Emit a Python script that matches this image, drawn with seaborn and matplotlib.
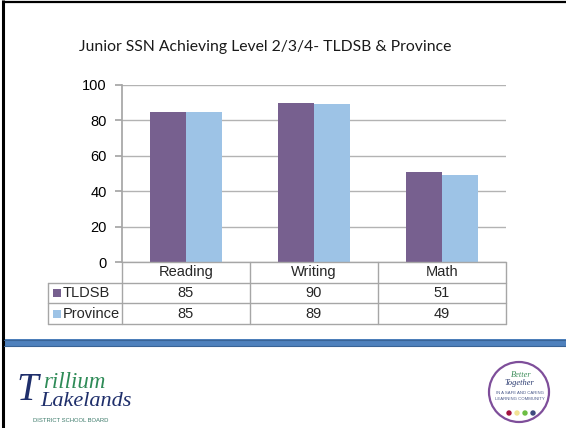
import matplotlib
matplotlib.use("Agg")
import matplotlib.pyplot as plt
import seaborn as sns
import pandas as pd
from matplotlib.patches import Rectangle, Circle

# chart data
title = "Junior SSN Achieving Level 2/3/4- TLDSB & Province"
subjects = ["Reading", "Writing", "Math"]
series = ["TLDSB", "Province"]
tldsb = [85, 90, 51]
province = [85, 89, 49]
yticks = [0, 20, 40, 60, 80, 100]
colors = ["#77608F", "#9DC3E6"]

df = pd.DataFrame({
    "subject": subjects * 2,
    "series": [series[0]] * 3 + [series[1]] * 3,
    "value": tldsb + province,
})

sns.set_theme(style="white")
plt.rcParams["font.family"] = ["Liberation Sans", "DejaVu Sans"]

W, H = 566, 428
fs = 10.5
fig = plt.figure(figsize=(W / 100, H / 100), dpi=100)


def fx(px):
    return px / W


def fy(py):
    return 1 - py / H


# overlay in pixel coords for slide decorations
ov = fig.add_axes([0, 0, 1, 1])
ov.set_xlim(0, W)
ov.set_ylim(H, 0)
ov.axis("off")

ov.plot([3, 3], [0, H], color="black", lw=2.2, solid_capstyle="butt")
ov.plot([2, W], [2, 2], color="black", lw=1.6, solid_capstyle="butt")
ov.text(265, 47, title, fontsize=11.3, family="Lato", ha="center", va="center", color="#1a1a1a")

# blue rule
ov.add_patch(Rectangle((4, 339), W - 4, 7, facecolor="#4F81BD", edgecolor="none"))
ov.plot([4, W], [339.5, 339.5], color="#3A6496", lw=0.8)
ov.plot([4, W], [345.5, 345.5], color="#3A6496", lw=0.8)

# Trillium Lakelands logo (text)
ov.text(16, 390, "T", fontsize=28, family="Liberation Serif", style="italic", color="#1F2F6B", ha="left", va="center")
ov.text(43, 382, "rillium", fontsize=16.5, family="Liberation Serif", style="italic", color="#2E8B57", ha="left", va="center")
ov.text(40, 401, "Lakelands", fontsize=16, family="Liberation Serif", style="italic", color="#1F2F6B", ha="left", va="center")
ov.text(33, 420, "DISTRICT SCHOOL BOARD", fontsize=4.2, color="#3C7A6A", ha="left", va="center")

# Better Together logo
ov.add_patch(Circle((519, 392), 30, facecolor="white", edgecolor="#7E4E9A", lw=1.6))
ov.text(521, 375, "Better", fontsize=6, family="Liberation Serif", style="italic", color="#3E8E5A", ha="center", va="center")
ov.text(519, 383, "Together", fontsize=6, family="Liberation Serif", style="italic", color="#2A3A70", ha="center", va="center")
ov.text(520, 393, "IN A SAFE AND CARING", fontsize=3.1, color="#4A5A8A", ha="center", va="center")
ov.text(520, 399, "LEARNING COMMUNITY", fontsize=3.1, color="#4A5A8A", ha="center", va="center")
for cx, c in zip([509, 517, 525, 533], ["#A3123E", "#F2E394", "#6DBE45", "#3E4A7E"]):
    ov.add_patch(Circle((cx, 413), 2.7, facecolor=c, edgecolor="none"))

# bar chart
ax = fig.add_axes([fx(122), fy(262), fx(506) - fx(122), fy(85) - fy(262)])
sns.barplot(data=df, x="subject", y="value", hue="series", order=subjects, hue_order=series,
            palette=colors, width=0.57, saturation=1, linewidth=0, ax=ax, legend=False)
ax.set_ylim(0, 100)
ax.set_xlim(-0.5, 2.5)
ax.set_yticks(yticks)
ax.yaxis.grid(True, color="#B3B3B3", lw=1)
ax.set_axisbelow(True)
ax.set_xticks([])
ax.set_xlabel("")
ax.set_ylabel("")
for s in ["top", "right", "bottom"]:
    ax.spines[s].set_visible(False)
ax.spines["left"].set_color("#A6A6A6")
ax.tick_params(axis="y", left=True, length=5, color="#A6A6A6", labelsize=fs, pad=6, labelcolor="black")
ax.set_facecolor("none")

# data table below the chart
cat_w = (506 - 122) / 3
xl = -0.5 - (122 - 48) / cat_w
row_h = (324 - 262) / 3
tx = fig.add_axes([fx(48), fy(324), fx(506) - fx(48), fy(262) - fy(324)])
tx.set_xlim(xl, 2.5)
tx.set_ylim(3, 0)
tx.axis("off")
lc = "#A6A6A6"
tx.plot([-0.5, 2.5], [0, 0], color=lc, lw=1, clip_on=False)
for r in [1, 2, 3]:
    tx.plot([xl, 2.5], [r, r], color=lc, lw=1, clip_on=False)
for c in [-0.5, 0.5, 1.5, 2.5]:
    tx.plot([c, c], [0, 3], color=lc, lw=1, clip_on=False)
tx.plot([xl, xl], [1, 3], color=lc, lw=1, clip_on=False)

for i, s in enumerate(subjects):
    tx.text(i, 0.5, s, fontsize=fs, ha="center", va="center")
for r, (name, vals, col) in enumerate(zip(series, [tldsb, province], colors)):
    y = r + 1.5
    tx.add_patch(Rectangle((xl + 5 / cat_w, y - 4 / row_h), 8 / cat_w, 8 / row_h,
                           facecolor=col, edgecolor="none", clip_on=False))
    tx.text(xl + 15 / cat_w, y, name, fontsize=fs, ha="left", va="center")
    for i, v in enumerate(vals):
        tx.text(i, y, str(v), fontsize=fs, ha="center", va="center")

fig.savefig("out.png", dpi=100)
